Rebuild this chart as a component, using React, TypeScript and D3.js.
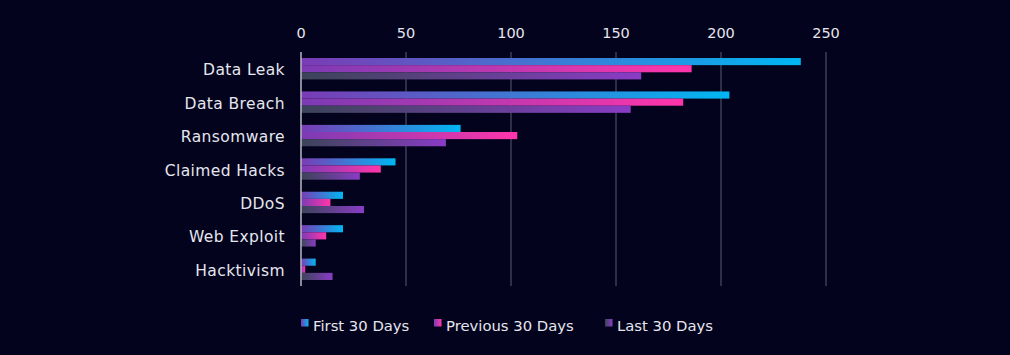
import React from "react";
import * as d3 from "d3";

const categories = ["Data Leak", "Data Breach", "Ransomware", "Claimed Hacks", "DDoS", "Web Exploit", "Hacktivism"];
const seriesNames = ["First 30 Days", "Previous 30 Days", "Last 30 Days"];
const firstValues = [238, 204, 76, 45, 20, 20, 7];
const previousValues = [186, 182, 103, 38, 14, 12, 2];
const lastValues = [162, 157, 69, 28, 30, 7, 15];
const xTicks = [0, 50, 100, 150, 200, 250];

const gradients = [
  { id: "g0", from: "#7b3bb5", to: "#00b7f3" },
  { id: "g1", from: "#7b3bb5", to: "#ff35aa" },
  { id: "g2", from: "#3b4458", to: "#8a3cc6" },
];

const W = 1010, H = 355;
const M = { left: 301, right: 184, top: 52, bottom: 69 };
const FONT = "'DejaVu Sans', sans-serif";
const TEXT = "#e6e6ee";

export default function App() {
  const x = d3.scaleLinear().domain([0, 250]).range([M.left, W - M.right]);
  const y = d3.scaleBand<string>().domain(categories).range([M.top, H - M.bottom]).paddingInner(0.36).paddingOuter(0.18);
  const inner = d3.scaleBand<number>().domain([0, 1, 2]).range([0, y.bandwidth()]);
  const all = [firstValues, previousValues, lastValues];
  const legendX = [301, 434, 605];

  return (
    <svg width={W} height={H} style={{ position: "absolute", left: 0, top: 0, background: "#03031d" }}>
      <defs>
        {gradients.map((g) => (
          <linearGradient key={g.id} id={g.id} x1="0" x2="1" y1="0" y2="0">
            <stop offset="0%" stopColor={g.from} />
            <stop offset="100%" stopColor={g.to} />
          </linearGradient>
        ))}
      </defs>
      <rect width={W} height={H} fill="#03031d" />
      {xTicks.map((t) => (
        <g key={t}>
          {t > 0 && <line x1={x(t)} x2={x(t)} y1={M.top} y2={H - M.bottom} stroke="#4a4c66" strokeWidth={1.2} />}
          <text x={x(t)} y={38} textAnchor="middle" fill={TEXT} fontFamily={FONT} fontSize={14.5}>{t}</text>
        </g>
      ))}
      {categories.map((c, i) => (
        <g key={c}>
          {all.map((vals, s) => (
            <rect key={s} x={x(0)} y={(y(c) ?? 0) + (inner(s) ?? 0)} width={x(vals[i]) - x(0)} height={inner.bandwidth()} fill={`url(#${gradients[s].id})`} />
          ))}
          <text x={285} y={(y(c) ?? 0) + y.bandwidth() / 2 + 6.5} textAnchor="end" fill={TEXT} fontFamily={FONT} fontSize={15.5} letterSpacing={0.4}>{c}</text>
        </g>
      ))}
      <line x1={x(0)} x2={x(0)} y1={M.top} y2={H - M.bottom} stroke="#b8b8c4" strokeWidth={1.5} />
      {seriesNames.map((n, s) => (
        <g key={n}>
          <rect x={legendX[s]} y={319} width={7.5} height={7.5} fill={`url(#${gradients[s].id})`} />
          <text x={legendX[s] + 12} y={331} fill={TEXT} fontFamily={FONT} fontSize={14.8}>{n}</text>
        </g>
      ))}
    </svg>
  );
}
